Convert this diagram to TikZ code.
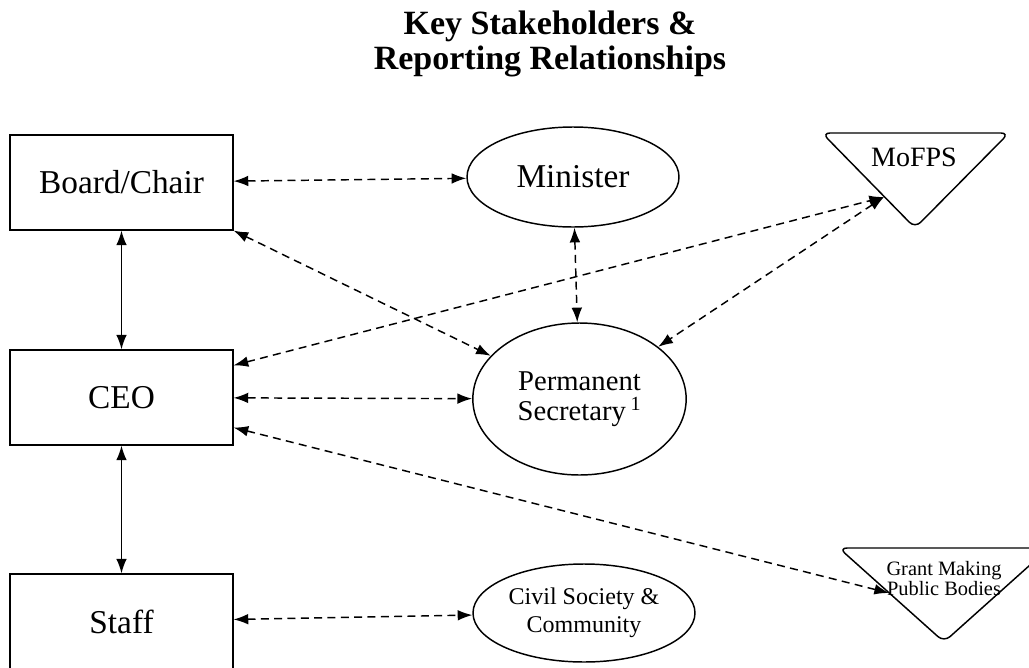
\documentclass[tikz,border=0pt]{standalone}
\usepackage{fontspec}
\setmainfont{Liberation Serif}
\usetikzlibrary{shapes.geometric,arrows.meta}

\tikzset{
  box/.style={draw, line width=1.1pt, minimum width=167pt, minimum height=71pt,
    font=\fontsize{25}{30}\selectfont},
  oval/.style={draw, ellipse, line width=1.1pt, inner sep=0pt, align=center},
  tri/.style={draw, line width=1.1pt, rounded corners=6pt},
  rel/.style={line width=1.1pt, dash pattern=on 6pt off 4pt,
    {Latex[length=11pt,width=8pt]}-{Latex[length=11pt,width=8pt]}},
  solidrel/.style={line width=1.1pt,
    {Latex[length=11pt,width=8pt]}-{Latex[length=11pt,width=8pt]}}
}

\begin{document}
\begin{tikzpicture}[x=0.75pt,y=-0.75pt]
\useasboundingbox (0,0) rectangle (1029,668);

\node[align=center, font=\bfseries\fontsize{25.5}{26}\selectfont] (title) at (550,44)
  {Key Stakeholders \&\\Reporting Relationships};

% left column
\node[box] (board) at (121.5,182.5) {Board/Chair};
\node[box] (ceo) at (121.5,397.5) {CEO};
\node[box] (staff) at (121.5,621.5) {Staff};

% middle column
\node[oval, minimum width=159pt, minimum height=75pt,
  font=\fontsize{25}{30}\selectfont] (minister) at (573,177) {Minister};
\node[oval, minimum width=160pt, minimum height=114pt,
  font=\fontsize{21.5}{22.5}\selectfont] (ps) at (579.5,399) {Permanent\\Secretary\,\textsuperscript{1}};
\node[oval, minimum width=166.5pt, minimum height=73.5pt,
  font=\fontsize{18}{21}\selectfont] (civil) at (584,613) {Civil Society \&\\Community};

% right column (triangles)
\draw[tri] (822,133) -- (1009,133) -- (915,228) -- cycle;
\node[font=\fontsize{21}{24}\selectfont] (mofps) at (914,157) {MoFPS};
\draw[tri] (839,548) -- (1049,548) -- (944,642) -- cycle;
\node[align=center, inner sep=0pt, font=\fontsize{15.3}{15}\selectfont] (grant) at (944,579)
  {Grant Making\\Public Bodies};
\coordinate (mofps in) at (884,197);
\coordinate (grant in) at (889,593);

% reporting lines
\draw[solidrel] (board) -- (ceo);
\draw[solidrel] (ceo) -- (staff);
\foreach \a/\b in {board/minister, board.south east/ps, ceo.16/mofps in, ceo/ps,
  ceo.345/grant in, minister/ps, mofps in/ps, staff/civil}{
  \draw[rel] (\a) -- (\b);}
\end{tikzpicture}
\end{document}
